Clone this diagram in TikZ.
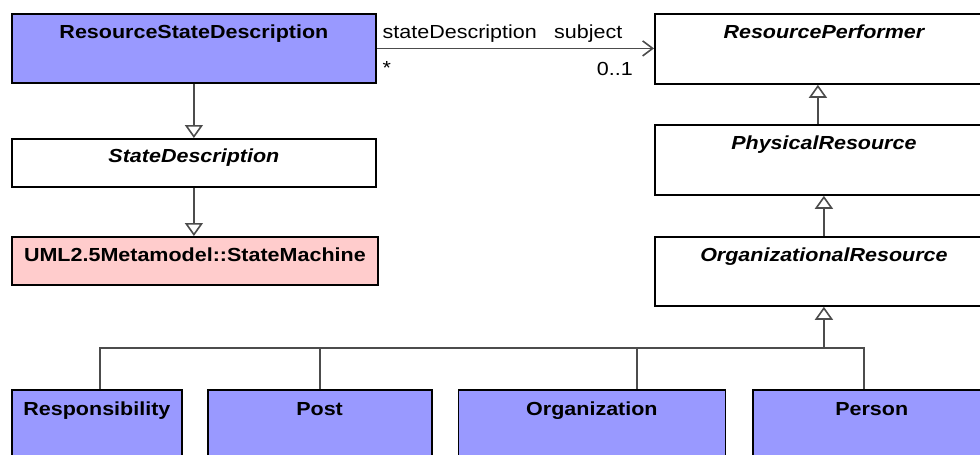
\documentclass[tikz,border=0pt]{standalone}
\usepackage{fontspec}
\setmainfont{Liberation Sans}
\usepackage{graphicx}
\usetikzlibrary{arrows.meta}
\definecolor{clsblue}{HTML}{9999FF}
\definecolor{clspink}{HTML}{FFCCCC}
\definecolor{conn}{HTML}{4C4C4C}
\newcommand{\sqz}[1]{\scalebox{1}[0.88]{#1}}
\tikzset{
  box/.style={draw=black, line width=1.8pt, anchor=north west, inner sep=0pt},
  ttl/.style={anchor=base, inner sep=0pt, font=\fontsize{21.5}{24}\selectfont\bfseries},
  ttli/.style={ttl, font=\fontsize{21.5}{24}\selectfont\bfseries\itshape},
  lbl/.style={inner sep=0pt, font=\fontsize{21.5}{24}\selectfont},
  line/.style={draw=conn, line width=1.8pt},
  gen/.style={line, -{Triangle[length=13pt, width=18pt, fill=white, line width=1.6pt]}},
  assoc/.style={line, -{Straight Barb[length=10pt, width=15pt, line width=1.6pt]}}
}
\begin{document}
\begin{tikzpicture}[x=1pt,y=-1pt]
\useasboundingbox (0,0) rectangle (980,455);
\fill[white] (0,0) rectangle (980,455);
% left column
\node[box, fill=clsblue, minimum width=364pt, minimum height=69pt] (rsd) at (11,13) {};
\node[ttl] (rsdT) at ([yshift=-25.5pt]rsd.north) {\sqz{ResourceStateDescription}};
\node[box, fill=white, minimum width=364pt, minimum height=48pt] (sd) at (11,138) {};
\node[ttli] (sdT) at ([yshift=-24pt]sd.north) {\sqz{StateDescription}};
\node[box, fill=clspink, minimum width=366pt, minimum height=48pt] (sm) at (11,236) {};
\node[ttl] (smT) at ([yshift=-25pt]sm.north) {\sqz{UML2.5Metamodel::StateMachine}};
% right column
\node[box, fill=white, minimum width=338pt, minimum height=70pt] (rp) at (654,13) {};
\node[ttli] (rpT) at ([yshift=-25.5pt]rp.north) {\sqz{ResourcePerformer}};
\node[box, fill=white, minimum width=338pt, minimum height=70pt] (pr) at (654,124) {};
\node[ttli] (prT) at ([yshift=-25.5pt]pr.north) {\sqz{PhysicalResource}};
\node[box, fill=white, minimum width=338pt, minimum height=69pt] (or) at (654,236) {};
\node[ttli] (orT) at ([yshift=-25.5pt]or.north) {\sqz{OrganizationalResource}};
% bottom row
\node[box, fill=clsblue, minimum width=170pt, minimum height=90pt] (resp) at (11,389) {};
\node[ttl] (respT) at ([yshift=-26pt]resp.north) {\sqz{Responsibility}};
\node[box, fill=clsblue, minimum width=224pt, minimum height=90pt] (post) at (206.7,389) {};
\node[ttl] (postT) at ([yshift=-26pt]post.north) {\sqz{Post}};
\node[box, fill=clsblue, minimum width=267pt, minimum height=90pt] (org) at (457.5,389) {};
\node[ttl] (orgT) at ([yshift=-26pt]org.north) {\sqz{Organization}};
\node[box, fill=clsblue, minimum width=237pt, minimum height=90pt] (pers) at (752.3,389) {};
\node[ttl] (persT) at ([yshift=-26pt]pers.north) {\sqz{Person}};
% generalizations, left
\draw[gen] (rsd.south) -- (rsd.south |- sd.north);
\draw[gen] (sd.south) -- (sd.south |- sm.north);
% generalizations, right
\draw[gen] ([xshift=-6pt]pr.north) -- ([xshift=-6pt]pr.north |- rp.south);
\draw[gen] (or.north) -- (or.north |- pr.south);
\coordinate (bus) at (822,348);
\draw[gen] (or.south |- bus) -- (or.south);
\draw[line] ([xshift=3pt]resp.north) |- (bus) -| ([xshift=-7.5pt]pers.north);
\draw[line] ([xshift=0.3pt]post.north) -- ([xshift=0.3pt]post.north |- bus);
\draw[line] ([xshift=45pt]org.north) -- ([xshift=45pt]org.north |- bus);
% association
\draw[assoc] (rsd.east) -- (rsd.east -| rp.west);
\node[lbl, anchor=base west] (l1) at (382.5,38) {\sqz{stateDescription}};
\node[lbl, anchor=base east] (l2) at (622.5,38) {\sqz{subject}};
\node[lbl, anchor=base west] (l3) at (382.5,74) {\sqz{*}};
\node[lbl, anchor=base east] (l4) at (633,75) {\sqz{0..1}};
\end{tikzpicture}
\end{document}
